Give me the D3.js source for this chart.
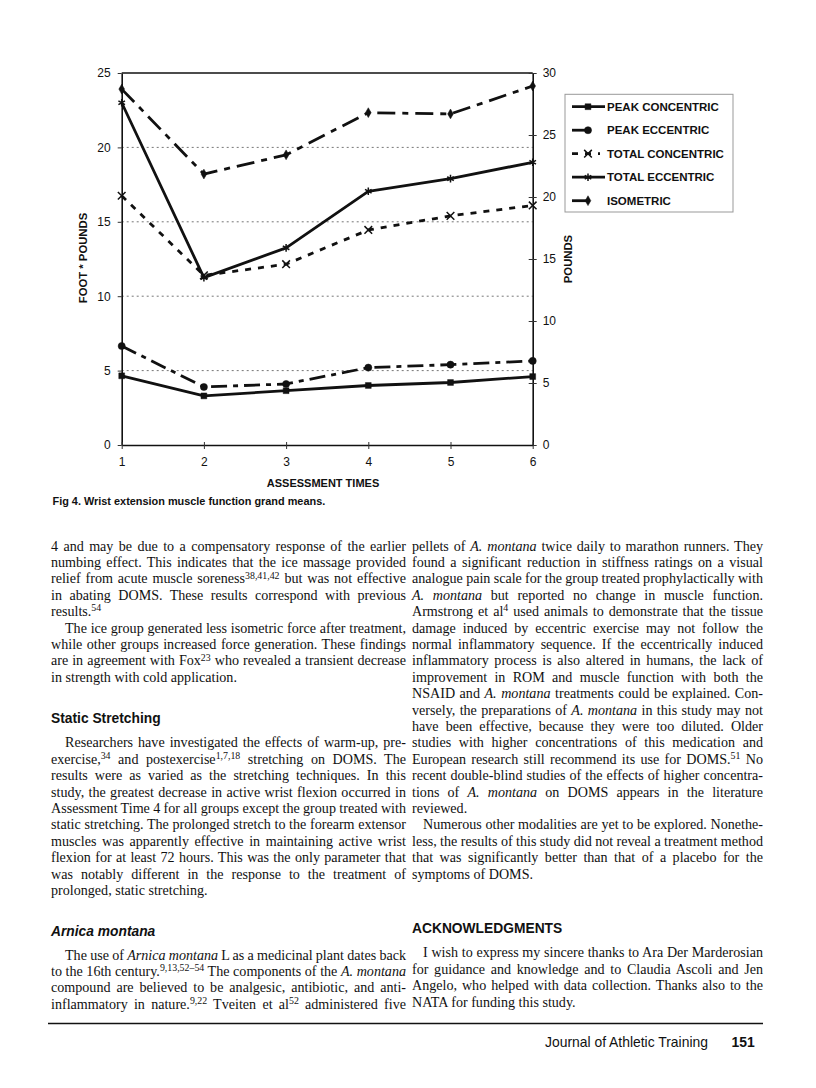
<!DOCTYPE html>
<html>
<head>
<meta charset="utf-8">
<script src="https://cdn.jsdelivr.net/npm/d3@7"></script>
<style>
  body { margin: 0; background: #fff; }
  #page { position: relative; width: 816px; height: 1088px; overflow: hidden; background: #fff; }
  #page svg { position: absolute; left: 0; top: 0; }
  .col { position: absolute; font-family: "Liberation Serif", "Times New Roman", serif; font-size: 14.1px; line-height: 16.4px; color: #111; }
  .ln { white-space: nowrap; height: 16.4px; overflow: visible; }
  .ln sup { font-size: 0.7em; line-height: 0; vertical-align: 0; position: relative; top: -0.5em; }
</style>
</head>
<body>
<div id="page"></div>
<script>
// ---------------- DATA ----------------
const assessmentTimes = [1, 2, 3, 4, 5, 6];
const leftTicks = [0, 5, 10, 15, 20, 25];
const rightTicks = [0, 5, 10, 15, 20, 25, 30];
const gridValues = [5, 10, 15, 20];

const peakConcentric  = [4.65, 3.3, 3.65, 4.0, 4.2, 4.6];    // foot*pounds (left)
const peakEccentric   = [6.65, 3.9, 4.1, 5.2, 5.4, 5.65];    // foot*pounds (left)
const totalConcentric = [16.75, 11.4, 12.15, 14.45, 15.4, 16.1]; // foot*pounds (left)
const totalEccentric  = [23.0, 11.25, 13.25, 17.05, 17.9, 19.0]; // foot*pounds (left)
const isometric       = [28.7, 21.85, 23.4, 26.8, 26.7, 28.95];  // pounds (right)

const seriesNames = ["PEAK CONCENTRIC", "PEAK ECCENTRIC", "TOTAL CONCENTRIC", "TOTAL ECCENTRIC", "ISOMETRIC"];
const seriesValues = [peakConcentric, peakEccentric, totalConcentric, totalEccentric, isometric];
const seriesAxis = ["left", "left", "left", "left", "right"];

const leftAxisTitle = "FOOT * POUNDS";
const rightAxisTitle = "POUNDS";
const xAxisTitle = "ASSESSMENT TIMES";
const caption = "Fig 4. Wrist extension muscle function grand means.";

// ---------------- STYLES ----------------
const seriesStyle = [
  { dash: null,          symbol: d3.symbolSquare,   size: 34, fill: true,  legendLen: 33 },
  { dash: "16,6,5,6",    symbol: d3.symbolCircle,   size: 40, fill: true,  legendLen: 19 },
  { dash: "6,7",         symbol: d3.symbolX,        size: 40, fill: false, legendLen: 28 },
  { dash: null,          symbol: d3.symbolAsterisk, size: 40, fill: false, legendLen: 33 },
  { dash: "18,7,6,7",    symbol: d3.symbolDiamond,  size: 28, fill: true,  legendLen: 19 }
];

const W = 816, H = 1088;
const plot = { left: 121.7, right: 532.7, top: 73, bottom: 445 };
const sans = '"Liberation Sans", Arial, Helvetica, sans-serif';

const page = d3.select("#page");
const svg = page.append("svg").attr("width", W).attr("height", H);
svg.append("rect").attr("width", W).attr("height", H).attr("fill", "#fff");

const x = d3.scaleLinear().domain([1, 6]).range([plot.left, plot.right]);
const yL = d3.scaleLinear().domain([0, 25]).range([plot.bottom, plot.top]);
const yR = d3.scaleLinear().domain([0, 30]).range([plot.bottom, plot.top]);

// gridlines
svg.append("g").selectAll("line").data(gridValues).join("line")
  .attr("x1", plot.left).attr("x2", plot.right)
  .attr("y1", d => yL(d)).attr("y2", d => yL(d))
  .attr("stroke", "#777").attr("stroke-width", 1).attr("stroke-dasharray", "2,3");

// top border
svg.append("line").attr("x1", plot.left).attr("x2", plot.right)
  .attr("y1", plot.top).attr("y2", plot.top)
  .attr("stroke", "#111").attr("stroke-width", 1.4);

// axes
const axL = svg.append("g").attr("transform", `translate(${plot.left},0)`)
  .call(d3.axisLeft(yL).tickValues(leftTicks).tickSize(4).tickPadding(7).tickSizeOuter(0));
const axR = svg.append("g").attr("transform", `translate(${plot.right},0)`)
  .call(d3.axisRight(yR).tickValues(rightTicks).tickSize(4).tickPadding(6).tickSizeOuter(0));
const axB = svg.append("g").attr("transform", `translate(0,${plot.bottom})`)
  .call(d3.axisBottom(x).tickValues(assessmentTimes).tickFormat(d3.format("d")).tickSize(4).tickPadding(8.5).tickSizeOuter(0));

[axL, axR, axB].forEach(g => {
  g.select(".domain").attr("stroke", "#111").attr("stroke-width", 1.6);
  g.selectAll(".tick line").attr("stroke", "#333").attr("stroke-width", 1);
  g.selectAll(".tick text").attr("font-family", sans).attr("font-size", "12px").attr("fill", "#111");
});
axR.selectAll(".tick line").attr("x1", -4);
axB.selectAll(".tick line").attr("y1", -3);

// axis titles
svg.append("text").attr("transform", "translate(83,258) rotate(-90)")
  .attr("text-anchor", "middle").attr("dominant-baseline", "central")
  .attr("font-family", sans).attr("font-size", "11.3px").attr("font-weight", "bold").attr("fill", "#111")
  .text(leftAxisTitle);
svg.append("text").attr("transform", "translate(568,259) rotate(-90)")
  .attr("text-anchor", "middle").attr("dominant-baseline", "central")
  .attr("font-family", sans).attr("font-size", "11.3px").attr("font-weight", "bold").attr("fill", "#111")
  .text(rightAxisTitle);
svg.append("text").attr("x", 323).attr("y", 486.7).attr("text-anchor", "middle")
  .attr("font-family", sans).attr("font-size", "11px").attr("font-weight", "bold").attr("fill", "#111")
  .text(xAxisTitle);
svg.append("text").attr("x", 52.5).attr("y", 505).attr("text-anchor", "start")
  .attr("font-family", sans).attr("font-size", "10.9px").attr("font-weight", "bold").attr("fill", "#111")
  .text(caption);

// series
const series = seriesNames.map((name, i) => ({
  name, values: seriesValues[i], y: seriesAxis[i] === "right" ? yR : yL, style: seriesStyle[i]
}));

series.forEach(s => {
  const line = d3.line().x((d, j) => x(assessmentTimes[j])).y(d => s.y(d));
  svg.append("path").datum(s.values).attr("d", line)
    .attr("fill", "none").attr("stroke", "#111").attr("stroke-width", 2.8)
    .attr("stroke-linejoin", "round")
    .attr("stroke-dasharray", s.style.dash);
  svg.append("g").selectAll("path").data(s.values).join("path")
    .attr("transform", (d, j) => `translate(${x(assessmentTimes[j])},${s.y(d)})`)
    .attr("d", d3.symbol().type(s.style.symbol).size(s.style.size))
    .attr("fill", s.style.fill ? "#111" : "none")
    .attr("stroke", "#111").attr("stroke-width", s.style.fill ? 0.5 : 1.5);
});

// legend
const lg = svg.append("g");
lg.append("rect").attr("x", 565).attr("y", 94.3).attr("width", 168).attr("height", 117.7)
  .attr("fill", "#fff").attr("stroke", "#999").attr("stroke-width", 1);
const ly = d3.scalePoint().domain(seriesNames).range([106.7, 200.7]);
series.forEach(s => {
  const yy = ly(s.name);
  lg.append("line").attr("x1", 572).attr("x2", 572 + s.style.legendLen).attr("y1", yy).attr("y2", yy)
    .attr("stroke", "#111").attr("stroke-width", 2.8).attr("stroke-dasharray", s.style.dash);
  lg.append("path").attr("transform", `translate(588,${yy})`)
    .attr("d", d3.symbol().type(s.style.symbol).size(s.style.size))
    .attr("fill", s.style.fill ? "#111" : "none")
    .attr("stroke", "#111").attr("stroke-width", s.style.fill ? 0.5 : 1.5);
  lg.append("text").attr("x", 607).attr("y", yy + 4.2)
    .attr("font-family", sans).attr("font-size", "11.5px").attr("font-weight", "bold").attr("fill", "#111")
    .text(s.name);
});

// ---------------- ARTICLE TEXT ----------------
const textBlocks = [
  { x: 51, w: 355, y: 546, indent: 14, paras: [
    { noIndent: true, lines: [
      "4 and may be due to a compensatory response of the earlier",
      "numbing effect. This indicates that the ice massage provided",
      "relief from acute muscle soreness<sup>38,41,42</sup> but was not effective",
      "in abating DOMS. These results correspond with previous",
      "results.<sup>54</sup>"]},
    { lines: [
      "The ice group generated less isometric force after treatment,",
      "while other groups increased force generation. These findings",
      "are in agreement with Fox<sup>23</sup> who revealed a transient decrease",
      "in strength with cold application."]}
  ]},
  { x: 51, w: 355, y: 742.7, indent: 14, paras: [
    { lines: [
      "Researchers have investigated the effects of warm-up, pre-",
      "exercise,<sup>34</sup> and postexercise<sup>1,7,18</sup> stretching on DOMS. The",
      "results were as varied as the stretching techniques. In this",
      "study, the greatest decrease in active wrist flexion occurred in",
      "Assessment Time 4 for all groups except the group treated with",
      "static stretching. The prolonged stretch to the forearm extensor",
      "muscles was apparently effective in maintaining active wrist",
      "flexion for at least 72 hours. This was the only parameter that",
      "was notably different in the response to the treatment of",
      "prolonged, static stretching."]}
  ]},
  { x: 51, w: 355, y: 955, indent: 14, paras: [
    { open: true, lines: [
      "The use of <i>Arnica montana</i> L as a medicinal plant dates back",
      "to the 16th century.<sup>9,13,52–54</sup> The components of the <i>A. montana</i>",
      "compound are believed to be analgesic, antibiotic, and anti-",
      "inflammatory in nature.<sup>9,22</sup> Tveiten et al<sup>52</sup> administered five"]}
  ]},
  { x: 412, w: 351, y: 546, indent: 11, paras: [
    { noIndent: true, lines: [
      "pellets of <i>A. montana</i> twice daily to marathon runners. They",
      "found a significant reduction in stiffness ratings on a visual",
      "analogue pain scale for the group treated prophylactically with",
      "<i>A. montana</i> but reported no change in muscle function.",
      "Armstrong et al<sup>4</sup> used animals to demonstrate that the tissue",
      "damage induced by eccentric exercise may not follow the",
      "normal inflammatory sequence. If the eccentrically induced",
      "inflammatory process is also altered in humans, the lack of",
      "improvement in ROM and muscle function with both the",
      "NSAID and <i>A. montana</i> treatments could be explained. Con-",
      "versely, the preparations of <i>A. montana</i> in this study may not",
      "have been effective, because they were too diluted. Older",
      "studies with higher concentrations of this medication and",
      "European research still recommend its use for DOMS.<sup>51</sup> No",
      "recent double-blind studies of the effects of higher concentra-",
      "tions of <i>A. montana</i> on DOMS appears in the literature",
      "reviewed."]},
    { lines: [
      "Numerous other modalities are yet to be explored. Nonethe-",
      "less, the results of this study did not reveal a treatment method",
      "that was significantly better than that of a placebo for the",
      "symptoms of DOMS."]}
  ]},
  { x: 412, w: 351, y: 952.7, indent: 11, paras: [
    { lines: [
      "I wish to express my sincere thanks to Ara Der Marderosian",
      "for guidance and knowledge and to Claudia Ascoli and Jen",
      "Angelo, who helped with data collection. Thanks also to the",
      "NATA for funding this study."]}
  ]}
];

textBlocks.forEach(b => {
  const col = page.append("div").attr("class", "col")
    .style("left", b.x + "px").style("top", (b.y - 8.3) + "px").style("width", b.w + "px");
  b.paras.forEach(p => {
    p.lines.forEach((ln, k) => {
      const isLast = k === p.lines.length - 1 && !p.open;
      const ind = (k === 0 && !p.noIndent) ? b.indent : 0;
      const div = col.append("div").attr("class", "ln").style("padding-left", ind + "px");
      const span = div.append("span").html(ln);
      if (!isLast) {
        const nat = span.node().getBoundingClientRect().width;
        const spaces = (span.node().textContent.match(/ /g) || []).length;
        if (spaces > 0) span.style("word-spacing", ((b.w - ind - nat) / spaces) + "px");
      }
    });
  });
});

// headings
const headings = [
  { x: 51,  y: 722.6, text: "Static Stretching", italic: false },
  { x: 51,  y: 935.9, text: "Arnica montana", italic: true },
  { x: 412, y: 933.2, text: "ACKNOWLEDGMENTS", italic: false }
];
svg.append("g").selectAll("text").data(headings).join("text")
  .attr("x", d => d.x).attr("y", d => d.y)
  .attr("font-family", sans).attr("font-size", "13.8px").attr("font-weight", "bold")
  .attr("font-style", d => d.italic ? "italic" : "normal").attr("fill", "#111")
  .text(d => d.text);

// footer
svg.append("line").attr("x1", 48).attr("x2", 763).attr("y1", 1023.5).attr("y2", 1023.5)
  .attr("stroke", "#111").attr("stroke-width", 1.5);
svg.append("text").attr("x", 545).attr("y", 1047).attr("font-family", sans).attr("font-size", "13.9px")
  .attr("fill", "#111").text("Journal of Athletic Training");
svg.append("text").attr("x", 731.5).attr("y", 1047).attr("font-family", sans).attr("font-size", "13.9px")
  .attr("font-weight", "bold").attr("fill", "#111").text("151");
</script>
</body>
</html>
